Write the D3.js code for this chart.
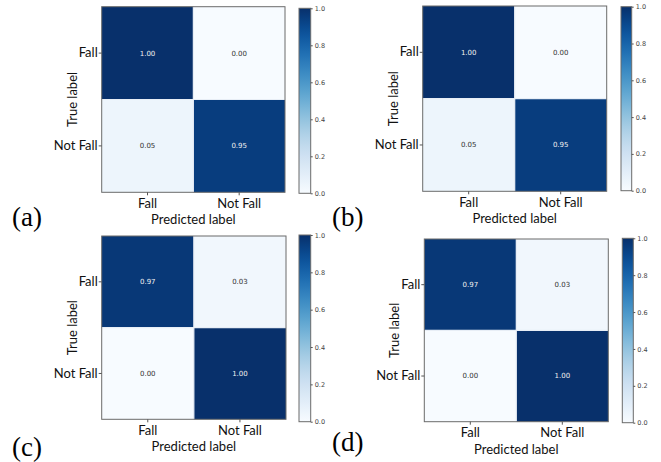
<!DOCTYPE html>
<html lang="en">
<head>
    <meta charset="UTF-8">
    <title>Confusion matrices</title>
    <script src="https://d3js.org/d3.v7.min.js"></script>
    <style>
        body { margin: 0; background: #fff; }
    </style>
</head>
<body>
    <svg id="chart" width="661" height="462"></svg>
    <script>
        // Data
        const categories = ["Fall", "Not Fall"];
        const panelNames = ["(a)", "(b)", "(c)", "(d)"];
        const matrixA = [[1.00, 0.00], [0.05, 0.95]];
        const matrixB = [[1.00, 0.00], [0.05, 0.95]];
        const matrixC = [[0.97, 0.03], [0.00, 1.00]];
        const matrixD = [[0.97, 0.03], [0.00, 1.00]];
        const matrices = [matrixA, matrixB, matrixC, matrixD];
        const colorbarTicks = [0.0, 0.2, 0.4, 0.6, 0.8, 1.0];
        const xTitle = "Predicted label";
        const yTitle = "True label";

        // Layout of each panel (matrix box, colorbar box, panel letter)
        const layout = [
            { x0: 101.7, x1: 285, y0: 6.7, y1: 192.3, cx0: 299, cx1: 310.7, cy0: 8.3, cy1: 193.3, lx: 12, ly: 226 },
            { x0: 422.7, x1: 606.7, y0: 6, y1: 191.3, cx0: 621, cx1: 631.7, cy0: 6.7, cy1: 190.7, lx: 332, ly: 226 },
            { x0: 101.7, x1: 286, y0: 236, y1: 419.3, cx0: 299, cx1: 310.7, cy0: 235, cy1: 421.7, lx: 12, ly: 456 },
            { x0: 424.3, x1: 608.3, y0: 239, y1: 421.7, cx0: 622.3, cx1: 633.3, cy0: 238.3, cy1: 422.7, lx: 332, ly: 451 }
        ];

        const svg = d3.select("#chart");
        const color = d3.scaleSequential(d3.interpolateBlues).domain([0, 1]);
        const labelFont = "Lato, 'Open Sans', sans-serif";
        const smallFont = "'DejaVu Sans', sans-serif";

        // Gradient for colorbars
        const defs = svg.append("defs");
        const grad = defs.append("linearGradient")
            .attr("id", "cbar")
            .attr("x1", 0).attr("y1", 1).attr("x2", 0).attr("y2", 0);
        d3.range(0, 1.0001, 0.05).forEach(t => {
            grad.append("stop").attr("offset", t).attr("stop-color", color(t));
        });

        matrices.forEach((m, i) => {
            const L = layout[i];
            const g = svg.append("g");

            const x = d3.scaleBand().domain(categories).range([L.x0, L.x1]);
            const y = d3.scaleBand().domain(categories).range([L.y0, L.y1]);

            const cells = [];
            m.forEach((row, r) => row.forEach((v, c) => cells.push({ r: categories[r], c: categories[c], v })));

            g.selectAll("rect.cell")
                .data(cells)
                .enter().append("rect")
                .attr("class", "cell")
                .attr("x", d => x(d.c))
                .attr("y", d => y(d.r))
                .attr("width", x.bandwidth())
                .attr("height", y.bandwidth())
                .attr("fill", d => color(d.v));

            // thin white separators between cells
            g.append("line")
                .attr("x1", L.x0).attr("x2", L.x1)
                .attr("y1", y(categories[1])).attr("y2", y(categories[1]))
                .attr("stroke", "#e8eef6").attr("stroke-width", 1.2);
            g.append("line")
                .attr("y1", L.y0).attr("y2", L.y1)
                .attr("x1", x(categories[1])).attr("x2", x(categories[1]))
                .attr("stroke", "#e8eef6").attr("stroke-width", 1.2);

            g.selectAll("text.val")
                .data(cells)
                .enter().append("text")
                .attr("class", "val")
                .attr("x", d => x(d.c) + x.bandwidth() / 2)
                .attr("y", d => y(d.r) + y.bandwidth() / 2)
                .attr("dy", "0.35em")
                .attr("text-anchor", "middle")
                .attr("font-family", smallFont)
                .attr("font-size", 7)
                .attr("fill", d => d.v > 0.5 ? "#f0f0f0" : "#333")
                .text(d => d.v.toFixed(2));

            // frame
            g.append("rect")
                .attr("x", L.x0).attr("y", L.y0)
                .attr("width", L.x1 - L.x0).attr("height", L.y1 - L.y0)
                .attr("fill", "none").attr("stroke", "#6b6b6b").attr("stroke-width", 1);

            // axes
            const ax = g.append("g")
                .attr("transform", `translate(0,${L.y1})`)
                .call(d3.axisBottom(x).tickSize(3).tickPadding(3));
            const ay = g.append("g")
                .attr("transform", `translate(${L.x0},0)`)
                .call(d3.axisLeft(y).tickSize(3).tickPadding(1));
            [ax, ay].forEach(a => {
                a.select(".domain").remove();
                a.selectAll(".tick line").attr("stroke", "#555");
                a.selectAll(".tick text")
                    .attr("font-family", labelFont)
                    .attr("font-size", 13)
                    .attr("fill", "#111");
            });

            g.append("text")
                .attr("x", (L.x0 + L.x1) / 2)
                .attr("y", L.y1 + 32)
                .attr("text-anchor", "middle")
                .attr("font-family", labelFont)
                .attr("font-size", 13)
                .attr("fill", "#111")
                .text(xTitle);

            g.append("text")
                .attr("transform", `translate(${L.x0 - 25},${(L.y0 + L.y1) / 2}) rotate(-90)`)
                .attr("text-anchor", "middle")
                .attr("font-family", labelFont)
                .attr("font-size", 13)
                .attr("fill", "#111")
                .text(yTitle);

            // colorbar
            const cy = d3.scaleLinear().domain([0, 1]).range([L.cy1, L.cy0]);
            g.append("rect")
                .attr("x", L.cx0).attr("y", L.cy0)
                .attr("width", L.cx1 - L.cx0).attr("height", L.cy1 - L.cy0)
                .attr("fill", "url(#cbar)")
                .attr("stroke", "#6b6b6b").attr("stroke-width", 1);
            const ac = g.append("g")
                .attr("transform", `translate(${L.cx1},0)`)
                .call(d3.axisRight(cy).tickValues(colorbarTicks).tickFormat(d3.format(".1f")).tickSize(2).tickPadding(2));
            ac.select(".domain").remove();
            ac.selectAll(".tick line").attr("stroke", "#555");
            ac.selectAll(".tick text")
                .attr("font-family", smallFont)
                .attr("font-size", 6.5)
                .attr("fill", "#444");

            // panel letter
            g.append("text")
                .attr("x", L.lx)
                .attr("y", L.ly)
                .attr("font-family", "'Liberation Serif', 'Times New Roman', serif")
                .attr("font-size", 27)
                .attr("fill", "#000")
                .text(panelNames[i]);
        });
    </script>
</body>
</html>
